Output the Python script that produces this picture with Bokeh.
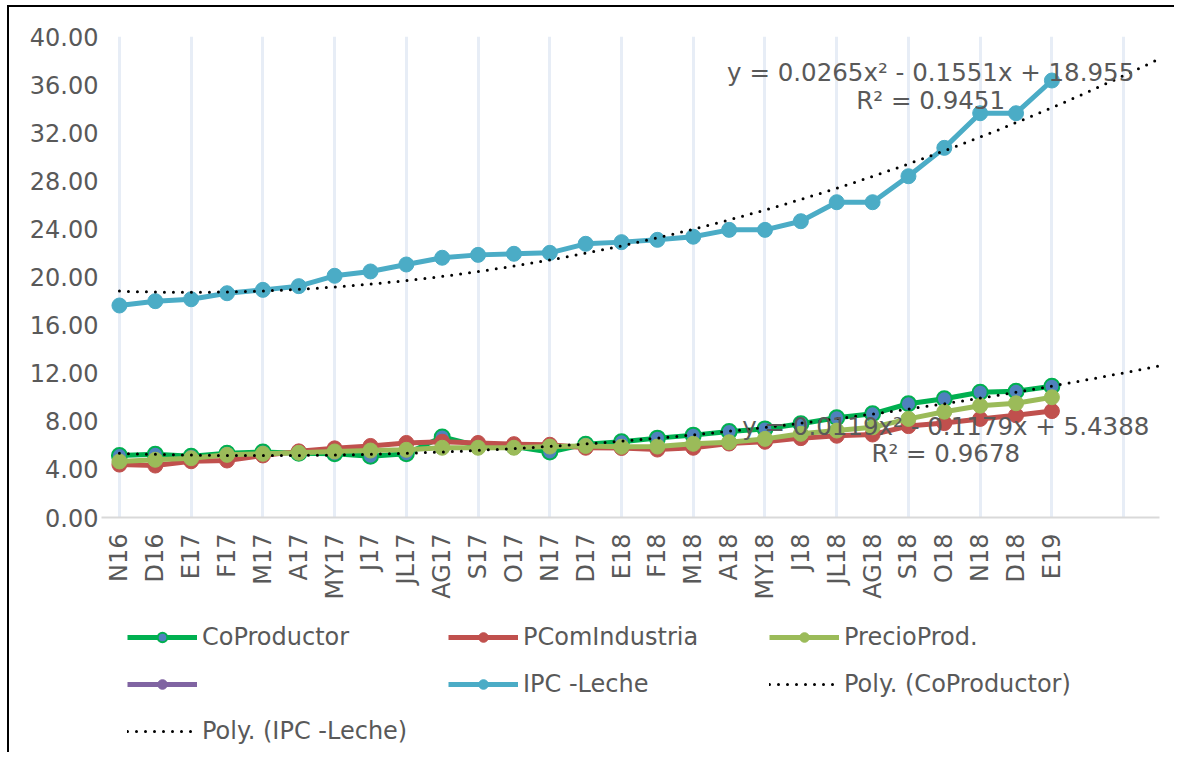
import numpy as np
from bokeh.plotting import figure
from bokeh.layouts import column
from bokeh.models import (FixedTicker, NumeralTickFormatter, Legend, LegendItem,
                          Label, Range1d, ColumnDataSource)
from bokeh.embed import file_html
from bokeh.resources import INLINE

categories = ["N16", "D16", "E17", "F17", "M17", "A17", "MY17", "J17", "JL17", "AG17",
              "S17", "O17", "N17", "D17", "E18", "F18", "M18", "A18", "MY18", "J18",
              "JL18", "AG18", "S18", "O18", "N18", "D18", "E19"]

co_productor = [5.15, 5.25, 5.10, 5.35, 5.45, 5.35, 5.30, 5.10, 5.30, 6.70,
                5.95, 5.90, 5.45, 6.10, 6.30, 6.60, 6.85, 7.15, 7.37, 7.80,
                8.29, 8.62, 9.46, 9.87, 10.42, 10.50, 10.92]
pcom_industria = [4.40, 4.32, 4.68, 4.74, 5.16, 5.50, 5.75, 5.95, 6.20, 6.30,
                  6.20, 6.10, 6.05, 5.80, 5.78, 5.65, 5.80, 6.15, 6.30, 6.60,
                  6.80, 6.90, 7.60, 7.85, 8.20, 8.50, 8.85]
precio_prod = [4.66, 4.80, 4.93, 5.21, 5.30, 5.38, 5.49, 5.57, 5.63, 5.80,
               5.80, 5.80, 5.90, 5.95, 5.88, 5.90, 6.13, 6.26, 6.54, 6.96,
               7.23, 7.50, 8.20, 8.80, 9.30, 9.50, 10.00]
unnamed_series = [float("nan")] * len(categories)   # series with no visible values
ipc_leche = [17.63, 17.99, 18.15, 18.65, 18.93, 19.24, 20.10, 20.46, 21.04, 21.60,
             21.84, 21.93, 22.01, 22.76, 22.90, 23.09, 23.35, 23.92, 23.92, 24.64,
             26.22, 26.22, 28.38, 30.74, 33.62, 33.62, 36.34]

# polynomial trendline coefficients shown on the chart (x = 1..n, forecast 3 forward)
poly_co = [0.0119, -0.1179, 5.4388]
poly_ipc = [0.0265, -0.1551, 18.955]
forecast_periods = 3

y_ticks = [0, 4, 8, 12, 16, 20, 24, 28, 32, 36, 40]

FONT = "DejaVu Sans"
TXT = "#595959"
C_CO, C_CO_M = "#00B050", "#4F81BD"
C_PC, C_PP, C_PU, C_IPC = "#C0504D", "#9BBB59", "#8064A2", "#4BACC6"
LW, MS = 5, 15

idx = list(range(len(categories)))
n_total = len(categories) + forecast_periods

W = 1165
p = figure(width=W, height=603, output_backend="svg", toolbar_location=None,
           x_range=Range1d(-0.5, n_total - 1), y_range=Range1d(0, 40),
           min_border_left=92, min_border_right=15, min_border_top=29,
           min_border_bottom=93)
p.outline_line_color = None
p.background_fill_color = "white"
p.border_fill_color = "white"

p.xaxis.ticker = FixedTicker(ticks=idx)
p.xaxis.major_label_overrides = {i: c for i, c in enumerate(categories)}
p.xaxis.major_label_orientation = np.pi / 2
p.xaxis.major_tick_line_color = None
p.xaxis.minor_tick_line_color = None
p.xaxis.major_tick_out = 0
p.xaxis.major_tick_in = 0
p.xaxis.axis_line_color = "#D9D9D9"
p.xaxis.axis_line_width = 2
p.xaxis.major_label_text_font = FONT
p.xaxis.major_label_text_font_size = "24px"
p.xaxis.major_label_text_color = TXT
p.xaxis.major_label_standoff = 16

p.yaxis.ticker = FixedTicker(ticks=y_ticks)
p.yaxis.formatter = NumeralTickFormatter(format="0.00")
p.yaxis.axis_line_color = None
p.yaxis.major_tick_line_color = None
p.yaxis.minor_tick_line_color = None
p.yaxis.major_tick_out = 0
p.yaxis.major_tick_in = 0
p.yaxis.major_label_text_font = FONT
p.yaxis.major_label_text_font_size = "24px"
p.yaxis.major_label_text_color = TXT
p.yaxis.major_label_standoff = 3

p.ygrid.grid_line_color = None
p.xgrid.ticker = FixedTicker(ticks=list(range(0, n_total, 2)))
p.xgrid.grid_line_color = "#E7EDF6"
p.xgrid.grid_line_width = 3

src = ColumnDataSource(dict(x=idx, co=co_productor, pc=pcom_industria,
                            pp=precio_prod, pu=unnamed_series, ipc=ipc_leche))

def series(fig, source, col, lc, fc, mlw=1):
    fig.line("x", col, source=source, line_color=lc, line_width=LW, line_join="round")
    fig.scatter("x", col, source=source, size=MS, fill_color=fc, line_color=lc, line_width=mlw)

series(p, src, "co", C_CO, C_CO_M, 2)
series(p, src, "pc", C_PC, C_PC)
series(p, src, "pp", C_PP, C_PP)
series(p, src, "pu", C_PU, C_PU)
series(p, src, "ipc", C_IPC, C_IPC)

xs = np.linspace(0, n_total - 1, 300)
t = xs + 1
trend_co = poly_co[0] * t ** 2 + poly_co[1] * t + poly_co[2]
trend_ipc = poly_ipc[0] * t ** 2 + poly_ipc[1] * t + poly_ipc[2]
p.line(xs, trend_co, line_color="black", line_width=3, line_dash="0 9", line_cap="round")
p.line(xs, trend_ipc, line_color="black", line_width=3, line_dash="0 9", line_cap="round")

def lab(x, y, text):
    p.add_layout(Label(x=x, y=y, text=text, text_align="center", text_baseline="middle",
                       text_font=FONT, text_font_size="24.5px", text_color=TXT))

lab(22.62, 37.0, "y = 0.0265x² - 0.1551x + 18.955")
lab(22.62, 34.65, "R² = 0.9451")
lab(23.04, 7.6, "y = 0.0119x² - 0.1179x + 5.4388")
lab(23.04, 5.3, "R² = 0.9678")

# ---- legend strip (proxy renderers carry no data); its frame aligns with the chart frame ----
LH = 142
lf = figure(width=W, height=LH, output_backend="svg", toolbar_location=None,
            x_range=Range1d(0, W), y_range=Range1d(0, LH),
            x_axis_location=None, y_axis_location=None,
            min_border_left=0, min_border_right=0, min_border_top=0, min_border_bottom=0)
lf.grid.visible = False
lf.outline_line_color = None
nan_src = ColumnDataSource(dict(x=[float("nan")], y=[float("nan")]))

def proxy(lc, fc, mlw=1):
    a = lf.line("x", "y", source=nan_src, line_color=lc, line_width=LW)
    b = lf.scatter("x", "y", source=nan_src, size=MS, fill_color=fc, line_color=lc, line_width=mlw)
    return [a, b]

r_co = proxy(C_CO, C_CO_M, 2)
r_pc = proxy(C_PC, C_PC)
r_pp = proxy(C_PP, C_PP)
r_pu = proxy(C_PU, C_PU)
r_ipc = proxy(C_IPC, C_IPC)
r_t1 = [lf.line("x", "y", source=nan_src, line_color="black", line_width=3, line_dash="0 9", line_cap="round")]
r_t2 = [lf.line("x", "y", source=nan_src, line_color="black", line_width=3, line_dash="0 9", line_cap="round")]

items = [
    LegendItem(label="CoProductor", renderers=r_co),
    LegendItem(label="PComIndustria", renderers=r_pc),
    LegendItem(label="PrecioProd.", renderers=r_pp),
    LegendItem(label=" ", renderers=r_pu),
    LegendItem(label="IPC -Leche", renderers=r_ipc),
    LegendItem(label="Poly. (CoProductor)", renderers=r_t1),
    LegendItem(label="Poly. (IPC -Leche)", renderers=r_t2),
]
legend = Legend(items=items, ncols=3, orientation="horizontal", location=(26, 7),
                glyph_width=70, glyph_height=24, label_height=24, label_standoff=5,
                label_width=227, spacing=19, padding=0, margin=0,
                border_line_color=None, background_fill_alpha=0,
                label_text_font=FONT, label_text_font_size="24px", label_text_color=TXT)
lf.add_layout(legend, "center")

layout = column(p, lf, spacing=0,
                styles={"margin-left": "7px", "margin-top": "5px",
                        "border-left": "2px solid black", "border-top": "2px solid black"})

open("out.html", "w").write(file_html(layout, INLINE))
